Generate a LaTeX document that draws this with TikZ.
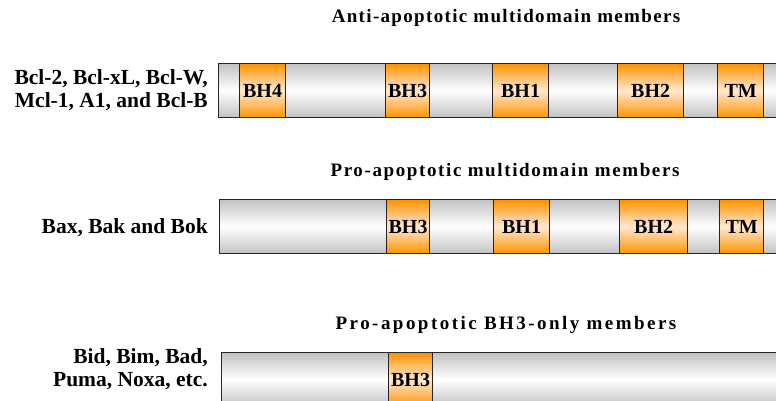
\documentclass[tikz,border=0pt]{standalone}
\usepackage{fontspec}
\setmainfont{Liberation Serif}
\begin{document}
\begin{tikzpicture}[x=1pt,y=-1pt,
  bar/.style={draw=black!85, line width=1.2pt, top color=black!24, bottom color=black!24, middle color=white, minimum height=54pt, inner sep=0pt, anchor=north west},
  dom/.style={draw=black!85, line width=1.2pt, top color=orange!85!yellow, bottom color=orange!85!yellow, middle color=orange!18, minimum height=54pt, inner sep=0pt, text depth=-3pt, anchor=north west, font=\fontsize{20}{20}\selectfont\bfseries},
  title/.style={font=\fontsize{19}{19}\selectfont\bfseries\addfontfeature{LetterSpace=#1}, inner sep=0pt},
  lab/.style={font=\fontsize{21.5}{23}\selectfont\bfseries, align=right, inner sep=0pt, anchor=east}]
\useasboundingbox (0,0) rectangle (776,401);
\clip (0,0) rectangle (776,401);
\fill[white] (0,0) rectangle (776,401);
% titles
\node[title=7] (t1) at (506,18) {Anti-apoptotic multidomain members};
\node[title=8.5] (t2) at (505,172) {Pro-apoptotic multidomain members};
\node[title=13] (t3) at (506,325) {Pro-apoptotic BH3-only members};
% labels
\node[lab] (l1) at (208,90) {Bcl-2, Bcl-xL, Bcl-W,\\Mcl-1, A1, and Bcl-B};
\node[lab] (l2) at (208,228) {Bax, Bak and Bok};
\node[lab] (l3) at (208,369) {Bid, Bim, Bad,\\Puma, Noxa, etc.};
% bar 1
\node[bar, minimum width=580pt] (bar1) at (218,63) {};
\node[dom, minimum width=46pt] (a4) at (239,63) {BH4};
\node[dom, minimum width=44pt] (a3) at (385,63) {BH3};
\node[dom, minimum width=56pt] (a1) at (492,63) {BH1};
\node[dom, minimum width=66pt] (a2) at (617,63) {BH2};
\node[dom, minimum width=46pt] (atm) at (717,63) {TM};
% bar 2
\node[bar, minimum width=580pt] (bar2) at (219,199) {};
\node[dom, minimum width=43pt] (b3) at (386,199) {BH3};
\node[dom, minimum width=56pt] (b1) at (493,199) {BH1};
\node[dom, minimum width=68pt] (b2) at (619,199) {BH2};
\node[dom, minimum width=44pt] (btm) at (719,199) {TM};
% bar 3
\node[bar, minimum width=580pt] (bar3) at (221,352) {};
\node[dom, minimum width=44pt] (c3) at (388,352) {BH3};
\end{tikzpicture}
\end{document}
